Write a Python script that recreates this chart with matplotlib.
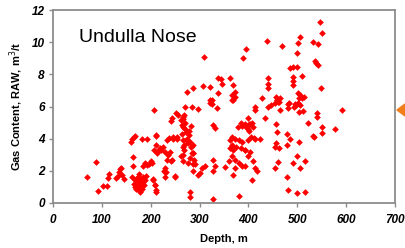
import matplotlib
matplotlib.use("Agg")
import matplotlib.pyplot as plt
from matplotlib.patches import Polygon

plt.rcParams['font.family'] = ['Liberation Sans', 'DejaVu Sans']

# depth (m), gas content (m3/t)
depth = [
    70, 88, 93, 103, 110, 113, 115, 128, 132, 135, 138, 140, 142, 145,
    160, 162, 165, 168, 163, 163, 182, 192, 211,
    162, 165, 167, 168, 170, 172, 173, 175, 176, 178, 178, 180, 182, 183,
    185, 187, 188, 190, 170, 175, 179, 184,
    185, 188, 192, 196, 200, 205, 208, 211,
    212, 218, 225, 229, 229, 233, 236, 239, 242, 246, 253, 250,
    207, 270, 284, 297, 321, 322, 335, 366, 252, 241,
    264, 267, 268, 270, 266, 243, 255, 261,
    327, 331, 210, 210, 206, 233, 238, 246, 253,
    264, 266, 269, 273, 274, 276, 269, 265, 262, 267, 266, 270, 265,
    278, 281, 283, 285, 287, 287, 280, 278, 283, 276, 272,
    213, 217, 222, 229, 244, 202, 229, 231, 227, 249,
    287, 289, 286, 291, 287, 296, 305, 311, 300,
    328, 331, 328, 352, 368, 362, 366, 368, 362,
    379, 384, 386, 393, 396,
    366, 372, 380, 386, 375, 384, 393, 366, 372, 380, 386, 372, 360,
    205, 208, 211, 280, 280, 327, 381,
    413, 414, 434, 400, 404, 402, 440, 447, 455, 458, 462, 465,
    481, 484, 493, 497, 503, 505, 512, 540, 541, 591, 522, 551, 551, 577,
    457, 458, 479, 486, 503, 535, 533, 424,
    400, 402, 408, 410, 400, 405, 412, 414,
    454, 457, 462, 479, 393, 403, 400, 409, 393, 413, 418,
    460, 455, 491, 500, 505, 516, 479, 407, 481, 499, 516,
    309, 274, 286, 307, 321, 338, 343, 346, 362, 338, 325, 325,
    368, 372, 368, 367, 373, 395, 389,
    546, 551, 438, 469, 506, 502, 499, 532, 542,
    485, 492, 499, 536, 539, 542, 510, 491, 491, 492,
    440, 439, 440, 548, 427, 456, 460, 465, 458,
    501, 505, 509, 504, 514, 481, 495, 502,
]
gas = [
    1.6, 2.55, 0.75, 1.05, 1.05, 1.55, 1.8, 1.55, 1.65, 1.9, 2.1, 2.2, 1.75, 1.5,
    3.8, 4.0, 4.1, 4.15, 2.85, 2.3, 3.95, 3.95, 4.15,
    1.6, 1.2, 1.0, 1.4, 0.9, 1.1, 1.6, 0.8, 1.3, 1.0, 0.7, 1.5, 1.2, 0.9,
    1.6, 1.1, 1.4, 1.7, 1.5, 1.8, 1.1, 1.3,
    2.3, 2.5, 2.35, 2.4, 2.6, 1.5, 1.1, 0.7,
    3.2, 3.4, 3.5, 1.6, 1.9, 2.7, 3.0, 3.2, 2.6, 4.0, 4.1, 1.6,
    5.8, 6.0, 6.0, 5.85, 6.2, 6.4, 5.9, 6.4, 5.6, 5.1,
    4.85, 5.2, 5.5, 5.0, 5.35, 5.3, 5.45, 5.15,
    4.85, 4.65, 4.2, 3.6, 3.3, 3.9, 4.05, 4.1, 3.95,
    4.3, 3.9, 3.6, 4.4, 4.0, 3.7, 3.3, 3.0, 2.9, 2.6, 3.5, 4.6, 4.7,
    4.2, 3.8, 3.5, 3.1, 3.6, 3.1, 2.8, 4.5, 4.8, 2.5, 3.9,
    3.1, 3.3, 3.3, 3.2, 2.7, 2.5, 2.2, 1.9, 2.0, 1.65,
    3.1, 2.7, 2.4, 2.4, 2.0, 1.75, 2.2, 2.3, 1.85,
    2.7, 2.3, 2.0, 2.25, 1.75, 3.9, 3.6, 3.3, 3.4,
    4.7, 5.0, 4.8, 4.9, 4.75,
    4.1, 4.0, 3.9, 3.8, 3.5, 3.4, 3.3, 2.9, 2.7, 2.5, 2.3, 2.2, 2.6,
    1.4, 1.1, 0.8, 0.7, 0.4, 0.25, 0.45,
    6.0, 5.8, 5.3, 5.3, 4.9, 4.5, 6.0, 6.1, 6.2, 6.4, 6.3, 5.8,
    5.9, 6.2, 6.0, 6.1, 5.65, 6.1, 5.75, 5.6, 5.35, 5.8, 4.95, 4.7, 4.35, 4.6,
    4.9, 4.4, 4.3, 4.0, 3.8, 4.1, 4.15, 4.0,
    4.6, 4.9, 5.0, 4.7, 3.9, 4.1, 4.05, 3.95,
    3.5, 3.7, 3.4, 3.6, 3.3, 3.2, 2.9, 2.6, 2.3, 2.2, 2.0,
    2.55, 2.2, 2.5, 2.9, 2.2, 2.6, 1.6, 1.4, 0.8, 0.6, 0.7,
    9.1, 6.9, 7.15, 7.3, 7.2, 7.75, 7.7, 7.4, 7.8, 6.85, 6.4, 6.15,
    6.4, 6.9, 7.35, 6.7, 6.6, 9.6, 9.0,
    11.25, 10.6, 10.1, 9.75, 10.3, 9.95, 9.3, 10.0, 9.9,
    8.4, 8.45, 8.45, 8.8, 8.7, 8.6, 7.9, 7.85, 7.6, 7.35,
    7.75, 7.4, 7.15, 7.15, 6.5, 6.6, 6.3, 6.5, 6.4,
    6.85, 6.7, 6.55, 6.5, 6.6, 6.15, 6.15, 6.2,
]

fig = plt.figure(figsize=(4.05, 2.48), dpi=100)
ax = fig.add_axes([0.131, 0.1815, 0.8443, 0.778])

ax.plot(depth, gas, linestyle='none', marker='D', markersize=3.4,
        color='#ff0000', markeredgewidth=0)

ax.set_xlim(0, 700)
ax.set_ylim(0, 12)
ax.set_xticks(range(0, 701, 100))
ax.set_yticks(range(0, 13, 2))
for s in ax.spines.values():
    s.set_color('#8c8c8c')
    s.set_linewidth(1.3)
ax.tick_params(direction='out', length=3, width=1, color='#8c8c8c',
               labelsize=8.5, pad=3)
ax.tick_params(axis='x', pad=5)
for lab in ax.get_xticklabels() + ax.get_yticklabels():
    lab.set_fontweight('bold')
    lab.set_fontstyle('italic')

ax.set_xlabel('Depth, m', fontsize=8, fontweight='bold', labelpad=6)
ax.set_ylabel('Gas Content, RAW, m$^3$/t', fontsize=8, fontweight='bold',
              labelpad=5)

ax.text(0.075, 0.86, 'Undulla Nose', transform=ax.transAxes,
        fontsize=14, va='center', ha='left')

# orange pointer at the right edge
tri = Polygon([[397 / 405, 1 - 110 / 248], [405 / 405, 1 - 104 / 248],
               [405 / 405, 1 - 116 / 248]], closed=True,
              transform=fig.transFigure, color='#f07d1a')
fig.patches.append(tri)

fig.savefig('out.png', dpi=100)
